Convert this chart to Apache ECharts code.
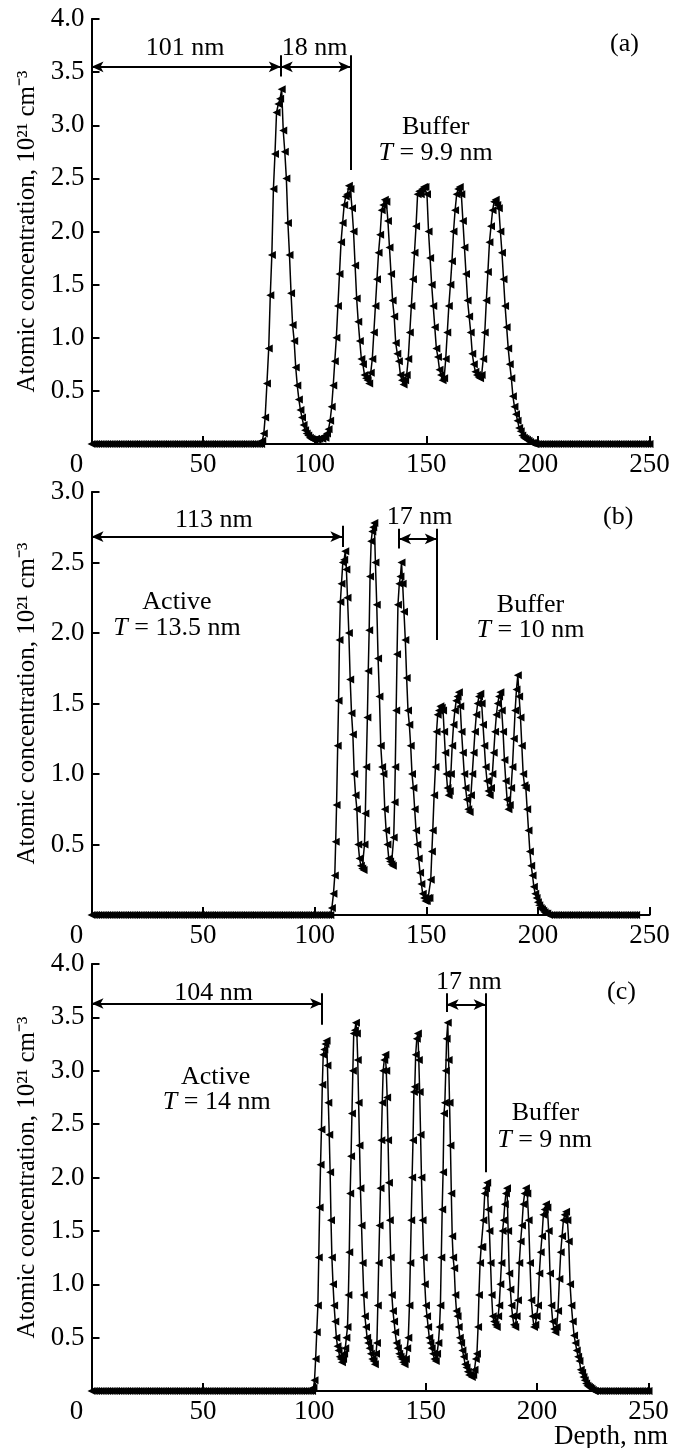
<!DOCTYPE html>
<html>
<head>
<meta charset="utf-8">
<script src="https://cdn.jsdelivr.net/npm/echarts@6/dist/echarts.min.js"></script>
<style>
html,body{margin:0;padding:0;background:#fff;}
#chart{width:685px;height:1448px;}
</style>
</head>
<body>
<div id="chart"></div>
<script>
// ---------- DATA ----------
const xTicks = [0, 50, 100, 150, 200, 250];
const yMaxA = 4.0, yMaxB = 3.0, yMaxC = 4.0;

// Panel (a): [depth nm, concentration 1e21 cm^-3]
const profileA = [
[0,0],[1,0],[2,0],[3,0],[4,0],[5,0],[6,0],[7,0],[8,0],[9,0],[10,0],[11,0],[12,0],[13,0],[14,0],[15,0],[16,0],[17,0],[18,0],[19,0],[20,0],[21,0],[22,0],[23,0],[24,0],[25,0],[26,0],[27,0],[28,0],[29,0],[30,0],[31,0],[32,0],[33,0],[34,0],[35,0],[36,0],[37,0],[38,0],[39,0],[40,0],[41,0],[42,0],[43,0],[44,0],[45,0],[46,0],[47,0],[48,0],[49,0],[50,0],[51,0],[52,0],[53,0],[54,0],[55,0],[56,0],[57,0],[58,0],[59,0],[60,0],[61,0],[62,0],[63,0],[64,0],[65,0],[66,0],[67,0],[68,0],[69,0],[70,0],[71,0],[72,0],[73,0],[74,0],[75,0],[76,0],
[76.5,0.03],[77.2,0.1],[77.8,0.25],[78.6,0.57],[79.4,0.9],[80.1,1.4],[80.8,1.78],[81.5,2.4],[82.2,2.73],[82.9,3.12],[83.7,3.2],[84.5,3.25],[85.2,3.34],[85.9,2.95],[86.6,2.75],[87.3,2.5],[88.0,2.08],[88.7,1.78],[89.4,1.42],[90.1,1.12],[90.8,0.97],[91.5,0.72],[92.2,0.55],[92.9,0.42],[93.6,0.32],[94.3,0.25],[95.0,0.18],[95.7,0.13],[96.4,0.1],[97.1,0.08],[97.8,0.06],[98.5,0.05],[99.2,0.04],[99.9,0.04],[100.6,0.05],[101.3,0.04],[102.0,0.05],[102.7,0.06],[103.4,0.05],[104.1,0.07],[104.8,0.06],[105.5,0.1],[106.2,0.14],[106.9,0.22],[107.6,0.35],[108.3,0.55],[109.0,0.78],[109.7,1.0],[110.4,1.3],[111.1,1.6],[111.8,1.9],[112.5,2.08],[113.2,2.25],[113.9,2.33],[114.6,2.35],[115.3,2.43],[116.0,2.4],[116.7,2.22],[117.4,2.0],[118.1,1.68],[118.8,1.37],[119.5,1.15],[120.2,0.97],[120.9,0.8],[121.6,0.75],[122.3,0.65],[123.0,0.62],[123.7,0.6],[124.4,0.57],[125.1,0.67],[125.8,0.8],[126.5,1.05],[127.2,1.3],[127.9,1.55],[128.6,1.8],[129.3,1.97],[130.0,2.2],[130.7,2.25],[131.4,2.3],[132.1,2.28],[132.8,2.1],[133.5,1.85],[134.2,1.6],[134.9,1.35],[135.6,1.2],[136.3,0.95],[137.0,0.85],[137.7,0.78],[138.4,0.65],[139.1,0.6],[139.8,0.56],[140.5,0.6],[141.2,0.65],[141.9,0.8],[142.6,1.05],[143.3,1.3],[144.0,1.55],[144.7,1.8],[145.4,2.05],[146.1,2.35],[146.8,2.38],[147.5,2.35],[148.2,2.4],[148.9,2.42],[149.6,2.42],[150.3,2.35],[151.0,2.0],[151.7,1.75],[152.4,1.5],[153.1,1.3],[153.8,1.1],[154.5,0.9],[155.2,0.82],[155.9,0.7],[156.6,0.65],[157.3,0.6],[158.0,0.62],[158.7,0.8],[159.4,1.05],[160.1,1.3],[160.8,1.5],[161.5,1.72],[162.2,2.0],[162.9,2.2],[163.6,2.35],[164.3,2.4],[165.0,2.42],[165.7,2.35],[166.4,2.1],[167.1,1.85],[167.8,1.6],[168.5,1.35],[169.2,1.2],[169.9,1.05],[170.6,0.85],[171.3,0.75],[172.0,0.68],[172.7,0.65],[173.4,0.63],[174.1,0.62],[174.8,0.65],[175.5,0.8],[176.2,1.05],[176.9,1.35],[177.6,1.62],[178.3,1.9],[179.0,2.05],[179.7,2.2],[180.4,2.28],[181.1,2.3],[181.8,2.25],[182.5,2.22],[183.2,2.0],[183.9,1.8],[184.6,1.55],[185.3,1.3],[186.0,1.1],[186.7,0.9],[187.4,0.75],[188.1,0.62],[188.8,0.45],[189.5,0.35],[190.2,0.28],[190.9,0.22],[191.6,0.15],[192.3,0.12],[193.0,0.08],[193.7,0.06],[194.4,0.05],[195.1,0.04],[195.8,0.03],[196.5,0.02],[197.2,0.01],[197.9,0.01],[198.6,0],
[199,0],[200,0],[201,0],[202,0],[203,0],[204,0],[205,0],[206,0],[207,0],[208,0],[209,0],[210,0],[211,0],[212,0],[213,0],[214,0],[215,0],[216,0],[217,0],[218,0],[219,0],[220,0],[221,0],[222,0],[223,0],[224,0],[225,0],[226,0],[227,0],[228,0],[229,0],[230,0],[231,0],[232,0],[233,0],[234,0],[235,0],[236,0],[237,0],[238,0],[239,0],[240,0],[241,0],[242,0],[243,0],[244,0],[245,0],[246,0],[247,0],[248,0],[249,0],[250,0]
];

// Panel (b)
const profileB = [
[0,0],[1,0],[2,0],[3,0],[4,0],[5,0],[6,0],[7,0],[8,0],[9,0],[10,0],[11,0],[12,0],[13,0],[14,0],[15,0],[16,0],[17,0],[18,0],[19,0],[20,0],[21,0],[22,0],[23,0],[24,0],[25,0],[26,0],[27,0],[28,0],[29,0],[30,0],[31,0],[32,0],[33,0],[34,0],[35,0],[36,0],[37,0],[38,0],[39,0],[40,0],[41,0],[42,0],[43,0],[44,0],[45,0],[46,0],[47,0],[48,0],[49,0],[50,0],[51,0],[52,0],[53,0],[54,0],[55,0],[56,0],[57,0],[58,0],[59,0],[60,0],[61,0],[62,0],[63,0],[64,0],[65,0],[66,0],[67,0],[68,0],[69,0],[70,0],[71,0],[72,0],[73,0],[74,0],[75,0],[76,0],[77,0],[78,0],[79,0],[80,0],[81,0],[82,0],[83,0],[84,0],[85,0],[86,0],[87,0],[88,0],[89,0],[90,0],[91,0],[92,0],[93,0],[94,0],[95,0],[96,0],[97,0],[98,0],[99,0],[100,0],[101,0],[102,0],[103,0],[104,0],[105,0],[106,0],[107,0],
[107.7,0.05],[108.4,0.15],[109.0,0.28],[109.4,0.52],[109.8,0.78],[110.3,1.2],[110.7,1.52],[111.1,1.95],[111.5,2.22],[112.0,2.35],[112.6,2.5],[113.2,2.52],[113.7,2.58],[114.2,2.45],[114.7,2.25],[115.3,2.0],[115.9,1.67],[116.5,1.43],[117.1,1.28],[117.7,1.0],[118.3,0.85],[118.9,0.75],[119.5,0.5],[120.1,0.4],[120.7,0.35],[121.3,0.33],[121.9,0.32],[122.3,0.5],[122.7,0.72],[123.1,1.05],[123.6,1.4],[124.0,1.73],[124.4,2.02],[124.8,2.4],[125.3,2.65],[125.8,2.72],[126.2,2.75],[126.7,2.78],[127.2,2.5],[127.8,2.2],[128.4,1.82],[129.0,1.55],[129.6,1.2],[130.2,1.05],[130.8,1.0],[131.4,0.75],[132.0,0.6],[132.6,0.5],[133.2,0.4],[133.8,0.38],[134.4,0.36],[135.0,0.35],[135.4,0.55],[135.8,0.8],[136.1,1.05],[136.5,1.45],[136.9,1.85],[137.3,2.2],[137.9,2.35],[138.4,2.4],[138.9,2.5],[139.4,2.35],[140.0,2.15],[140.6,1.95],[141.2,1.68],[141.8,1.45],[142.4,1.35],[143.0,1.2],[143.6,1.0],[144.2,0.9],[144.8,0.75],[145.4,0.6],[146.0,0.5],[146.6,0.4],[147.2,0.3],[147.8,0.22],[148.4,0.15],[149.0,0.12],[149.6,0.1],[150.2,0.1],[150.8,0.12],[151.4,0.12],[152.0,0.25],[152.5,0.45],[152.9,0.6],[153.5,0.85],[154.1,1.05],[154.6,1.3],[155.1,1.42],[155.7,1.45],[156.3,1.48],[156.9,1.47],[157.5,1.45],[158.0,1.3],[158.5,1.15],[159.0,1.0],[159.5,0.9],[160.0,0.85],[160.5,0.88],[161.0,1.0],[161.6,1.2],[162.2,1.35],[162.8,1.45],[163.4,1.52],[164.0,1.55],[164.6,1.58],[165.2,1.48],[165.8,1.3],[166.4,1.15],[167.0,1.0],[167.6,0.9],[168.2,0.82],[168.8,0.75],[169.4,0.73],[170.0,0.85],[170.6,1.0],[171.2,1.15],[171.8,1.3],[172.4,1.42],[173.0,1.5],[173.6,1.55],[174.2,1.57],[174.8,1.5],[175.4,1.35],[176.0,1.2],[176.6,1.05],[177.2,0.95],[177.8,0.88],[178.4,0.85],[179.0,0.9],[179.6,1.0],[180.2,1.15],[180.8,1.3],[181.4,1.42],[182.0,1.5],[182.6,1.55],[183.2,1.58],[183.8,1.45],[184.4,1.3],[185.0,1.1],[185.6,0.95],[186.2,0.82],[186.8,0.75],[187.4,0.78],[188.0,0.9],[188.6,1.05],[189.2,1.25],[189.8,1.45],[190.4,1.6],[191.0,1.7],[191.6,1.55],[192.2,1.4],[192.8,1.2],[193.4,1.0],[194.0,0.92],[194.6,0.9],[195.2,0.75],[195.8,0.6],[196.4,0.45],[197.0,0.35],[197.6,0.28],[198.2,0.2],[198.8,0.15],[199.4,0.12],[200.0,0.09],[200.6,0.07],[201.2,0.05],[201.8,0.04],[202.4,0.03],[203.0,0.02],[203.6,0.01],[204.2,0.01],[205,0],
[206,0],[207,0],[208,0],[209,0],[210,0],[211,0],[212,0],[213,0],[214,0],[215,0],[216,0],[217,0],[218,0],[219,0],[220,0],[221,0],[222,0],[223,0],[224,0],[225,0],[226,0],[227,0],[228,0],[229,0],[230,0],[231,0],[232,0],[233,0],[234,0],[235,0],[236,0],[237,0],[238,0],[239,0],[240,0],[241,0],[242,0],[243,0],[244,0]
];

// Panel (c)
const profileC = [
[0,0],[1,0],[2,0],[3,0],[4,0],[5,0],[6,0],[7,0],[8,0],[9,0],[10,0],[11,0],[12,0],[13,0],[14,0],[15,0],[16,0],[17,0],[18,0],[19,0],[20,0],[21,0],[22,0],[23,0],[24,0],[25,0],[26,0],[27,0],[28,0],[29,0],[30,0],[31,0],[32,0],[33,0],[34,0],[35,0],[36,0],[37,0],[38,0],[39,0],[40,0],[41,0],[42,0],[43,0],[44,0],[45,0],[46,0],[47,0],[48,0],[49,0],[50,0],[51,0],[52,0],[53,0],[54,0],[55,0],[56,0],[57,0],[58,0],[59,0],[60,0],[61,0],[62,0],[63,0],[64,0],[65,0],[66,0],[67,0],[68,0],[69,0],[70,0],[71,0],[72,0],[73,0],[74,0],[75,0],[76,0],[77,0],[78,0],[79,0],[80,0],[81,0],[82,0],[83,0],[84,0],[85,0],[86,0],[87,0],[88,0],[89,0],[90,0],[91,0],[92,0],[93,0],[94,0],[95,0],[96,0],[97,0],[98,0],[99,0],
[99.6,0.03],[100.1,0.1],[100.6,0.3],[101.1,0.55],[101.6,0.8],[102.0,1.25],[102.4,1.72],[102.8,2.12],[103.2,2.45],[103.6,2.87],[104.0,3.15],[104.5,3.2],[105.0,3.25],[105.5,3.28],[105.9,3.05],[106.3,2.7],[106.7,2.4],[107.1,2.05],[107.5,1.6],[107.9,1.25],[108.4,1.0],[108.9,0.8],[109.4,0.65],[109.9,0.5],[110.4,0.42],[110.9,0.38],[111.4,0.32],[111.9,0.3],[112.4,0.27],[112.9,0.3],[113.4,0.35],[113.9,0.4],[114.4,0.5],[114.9,0.6],[115.3,0.9],[115.7,1.3],[116.1,1.85],[116.5,2.2],[116.9,2.6],[117.3,3.0],[117.7,3.35],[118.2,3.38],[118.7,3.45],[119.1,3.35],[119.5,3.1],[119.9,2.7],[120.3,2.3],[120.7,1.9],[121.2,1.55],[121.7,1.2],[122.2,0.9],[122.7,0.7],[123.2,0.6],[123.7,0.5],[124.2,0.45],[124.8,0.4],[125.4,0.35],[126.0,0.3],[126.6,0.28],[127.2,0.25],[127.7,0.35],[128.1,0.45],[128.5,0.8],[128.9,1.2],[129.3,1.55],[129.7,1.9],[130.1,2.35],[130.5,2.7],[130.9,3.0],[131.4,3.1],[131.9,3.15],[132.3,3.0],[132.7,2.75],[133.1,2.35],[133.5,1.95],[133.9,1.6],[134.3,1.25],[134.8,0.9],[135.3,0.75],[135.8,0.65],[136.3,0.55],[136.9,0.45],[137.5,0.4],[138.1,0.35],[138.7,0.32],[139.3,0.3],[139.9,0.27],[140.5,0.25],[141.1,0.3],[141.7,0.4],[142.2,0.5],[142.7,0.8],[143.1,1.2],[143.5,1.6],[143.9,2.0],[144.3,2.35],[144.7,2.8],[145.1,2.85],[145.5,3.15],[146.0,3.3],[146.5,3.35],[146.9,3.1],[147.3,2.8],[147.7,2.4],[148.1,2.0],[148.6,1.6],[149.1,1.25],[149.6,1.0],[150.1,0.8],[150.6,0.7],[151.1,0.6],[151.6,0.5],[152.1,0.45],[152.7,0.4],[153.3,0.35],[153.9,0.3],[154.5,0.28],[155.1,0.35],[155.7,0.45],[156.2,0.6],[156.6,0.8],[157.0,1.25],[157.4,1.7],[157.8,2.05],[158.2,2.6],[158.6,2.7],[159.0,3.0],[159.4,3.3],[159.9,3.45],[160.3,3.1],[160.7,2.7],[161.1,2.3],[161.5,1.85],[161.9,1.45],[162.3,1.25],[162.8,1.15],[163.3,0.9],[163.8,0.75],[164.3,0.7],[164.8,0.6],[165.3,0.5],[165.9,0.45],[166.5,0.38],[167.1,0.32],[167.7,0.25],[168.3,0.22],[168.9,0.18],[169.5,0.15],[170.1,0.15],[170.7,0.13],[171.3,0.15],[171.9,0.2],[172.5,0.3],[173.0,0.35],[173.5,0.6],[173.9,0.9],[174.4,1.2],[174.9,1.35],[175.4,1.35],[175.9,1.6],[176.5,1.85],[177.1,1.9],[177.6,1.95],[178.1,1.7],[178.6,1.5],[179.1,1.2],[179.6,0.9],[180.1,0.7],[180.7,0.65],[181.3,0.62],[181.9,0.6],[182.5,0.7],[183.0,0.8],[183.5,1.0],[184.0,1.2],[184.5,1.5],[185.0,1.6],[185.5,1.75],[186.0,1.85],[186.5,1.9],[187.0,1.5],[187.5,1.1],[188.0,0.95],[188.5,0.8],[189.0,0.7],[189.6,0.62],[190.2,0.6],[190.8,0.7],[191.4,0.85],[192.0,1.2],[192.6,1.4],[193.2,1.55],[193.8,1.75],[194.4,1.85],[195.0,1.9],[195.6,1.85],[196.2,1.6],[196.8,1.2],[197.4,0.85],[198.0,0.7],[198.6,0.6],[199.2,0.62],[199.8,0.7],[200.4,0.8],[201.0,1.1],[201.6,1.3],[202.2,1.45],[202.8,1.65],[203.4,1.7],[204.0,1.75],[204.6,1.72],[205.2,1.5],[205.8,1.1],[206.4,0.8],[207.0,0.65],[207.6,0.58],[208.2,0.55],[208.8,0.6],[209.4,0.75],[210.0,1.05],[210.6,1.3],[211.2,1.45],[211.8,1.6],[212.4,1.65],[213.0,1.68],[213.6,1.6],[214.2,1.4],[214.8,1.0],[215.4,0.8],[216.0,0.65],[216.6,0.52],[217.2,0.45],[217.8,0.38],[218.4,0.32],[219.0,0.28],[219.6,0.2],[220.2,0.17],[220.8,0.13],[221.4,0.1],[222.0,0.07],[222.6,0.05],[223.2,0.04],[223.8,0.03],[224.4,0.02],[225.0,0.01],[225.6,0],
[226,0],[227,0],[228,0],[229,0],[230,0],[231,0],[232,0],[233,0],[234,0],[235,0],[236,0],[237,0],[238,0],[239,0],[240,0],[241,0],[242,0],[243,0],[244,0],[245,0],[246,0],[247,0],[248,0],[249,0],[250,0]
];

// Annotation geometry in data coordinates (depth nm, concentration)
const arrowsA = [[0, 84.8, 3.55], [84.8, 116.0, 3.55]];
const barsA = [[84.8, 3.46, 3.66], [116.0, 2.58, 3.66]];
const labelsA = [
  [41.9, 3.73, '101 nm'], [100.0, 3.73, '18 nm'], [238.8, 3.76, '(a)'],
  [154.2, 2.98, 'Buffer'], [154.2, 2.74, '{i|T} = 9.9 nm']
];
const arrowsB = [[0, 112.4, 2.683], [137.8, 154.7, 2.667]];
const barsB = [[112.4, 2.61, 2.76], [137.8, 2.60, 2.74], [154.7, 1.95, 2.74]];
const labelsB = [
  [54.8, 2.80, '113 nm'], [147.0, 2.82, '17 nm'], [236.0, 2.825, '(b)'],
  [38.3, 2.22, 'Active'], [38.3, 2.035, '{i|T} = 13.5 nm'],
  [196.7, 2.20, 'Buffer'], [196.7, 2.02, '{i|T} = 10 nm']
];
const arrowsC = [[0, 103.5, 3.63], [159.4, 176.9, 3.62]];
const barsC = [[103.5, 3.43, 3.725], [159.4, 3.55, 3.725], [176.9, 2.05, 3.725]];
const labelsC = [
  [54.8, 3.73, '104 nm'], [169.4, 3.83, '17 nm'], [237.9, 3.74, '(c)'],
  [55.7, 2.94, 'Active'], [56.2, 2.71, '{i|T} = 14 nm'],
  [203.7, 2.60, 'Buffer'], [203.4, 2.35, '{i|T} = 9 nm']
];

// ---------- CHART ----------
const FONT = 'Liberation Serif';
const TICK_FS = 27;
const ANN_FS = 26;
const chart = echarts.init(document.getElementById('chart'), null, {renderer: 'canvas'});

const grids = [
  {left: 91.5, top: 19, width: 558, height: 425},
  {left: 91.5, top: 492, width: 558, height: 423},
  {left: 91.5, top: 964, width: 557, height: 427}
];
const yMaxes = [yMaxA, yMaxB, yMaxC];

function xAxisFor(i) {
  return {
    type: 'value', gridIndex: i, min: xTicks[0], max: xTicks[xTicks.length - 1], interval: 50,
    axisLine: {show: true, onZero: false, lineStyle: {color: '#000', width: 2}},
    axisTick: {show: true, inside: true, length: 8, lineStyle: {color: '#000', width: 2}},
    axisLabel: {
      show: true, color: '#000', fontFamily: FONT, fontSize: TICK_FS, margin: 7,
      formatter: v => v === 0 ? '{z|0}' : String(v),
      rich: {z: {fontFamily: FONT, fontSize: TICK_FS, color: '#000', padding: [0, 30, 0, 0]}}
    },
    splitLine: {show: false}
  };
}
function yAxisFor(i) {
  return {
    type: 'value', gridIndex: i, min: 0, max: yMaxes[i], interval: 0.5,
    name: 'Atomic concentration, 10²¹ cm⁻³',
    nameLocation: 'middle', nameRotate: 90, nameGap: 40,
    nameTextStyle: {color: '#000', fontFamily: FONT, fontSize: 25},
    axisLine: {show: true, lineStyle: {color: '#000', width: 2}},
    axisTick: {show: true, inside: true, length: 8, lineStyle: {color: '#000', width: 2}},
    axisLabel: {
      show: true, color: '#000', fontFamily: FONT, fontSize: TICK_FS, margin: 7,
      formatter: v => v === 0 ? '' : v.toFixed(1)
    },
    splitLine: {show: false}
  };
}

function markLinesFor(arrows, bars) {
  const data = [];
  arrows.forEach(a => {
    data.push([{coord: [a[0], a[2]], symbol: 'arrow', symbolSize: [8, 12]},
               {coord: [a[1], a[2]], symbol: 'arrow', symbolSize: [8, 12]}]);
  });
  bars.forEach(b => {
    data.push([{coord: [b[0], b[1]], symbol: 'none'}, {coord: [b[0], b[2]], symbol: 'none'}]);
  });
  return {
    silent: true, animation: false, symbol: ['none', 'none'],
    label: {show: false},
    lineStyle: {color: '#000', width: 2, type: 'solid'},
    emphasis: {disabled: true},
    data: data
  };
}
function markPointsFor(labels) {
  return {
    silent: true, animation: false,
    symbol: 'circle', symbolSize: 0,
    itemStyle: {color: 'rgba(0,0,0,0)'},
    label: {
      show: true, position: 'inside', color: '#000', fontFamily: FONT, fontSize: ANN_FS,
      rich: {i: {fontStyle: 'italic', fontFamily: FONT, fontSize: ANN_FS, color: '#000'}}
    },
    data: labels.map(l => ({coord: [l[0], l[1]], value: 0, label: {formatter: l[2]}}))
  };
}

const profiles = [profileA, profileB, profileC];
const arrowsAll = [arrowsA, arrowsB, arrowsC];
const barsAll = [barsA, barsB, barsC];
const labelsAll = [labelsA, labelsB, labelsC];

const series = profiles.map((p, i) => ({
  type: 'line', xAxisIndex: i, yAxisIndex: i, data: p,
  showSymbol: true, symbol: 'path://M0,5L10,0L10,10Z', symbolSize: [8, 8], symbolKeepAspect: true,
  itemStyle: {color: '#000'},
  lineStyle: {color: '#000', width: 1.5},
  clip: false, animation: false, silent: true,
  markLine: markLinesFor(arrowsAll[i], barsAll[i]),
  markPoint: markPointsFor(labelsAll[i])
}));

chart.setOption({
  animation: false,
  backgroundColor: '#fff',
  grid: grids,
  xAxis: [0, 1, 2].map(xAxisFor),
  yAxis: [0, 1, 2].map(yAxisFor),
  series: series,
  graphic: [{
    type: 'text', right: 17, top: 1423,
    style: {text: 'Depth, nm', fill: '#000', font: TICK_FS + 'px "' + FONT + '"'}
  }]
});
</script>
</body>
</html>
